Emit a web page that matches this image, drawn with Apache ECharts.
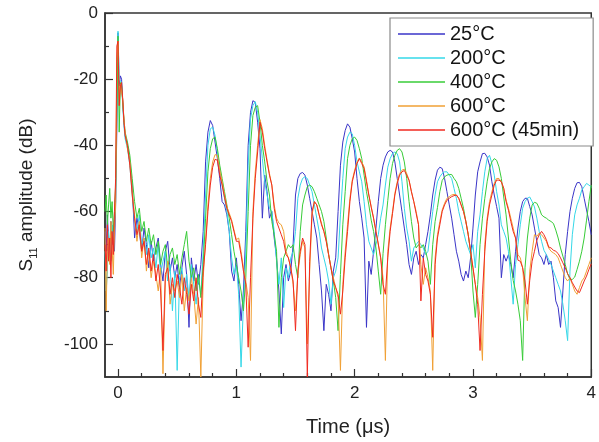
<!DOCTYPE html>
<html>
<head>
<meta charset="utf-8">
<script src="https://cdn.jsdelivr.net/npm/echarts@6/dist/echarts.min.js"></script>
<style>
html,body{margin:0;padding:0;background:#fff;}
#chart{width:599px;height:442px;}
</style>
</head>
<body>
<div id="chart"></div>
<script>
// Time axis (µs)
const times = [-0.11,-0.10,-0.09,-0.08,-0.07,-0.06,-0.05,-0.04,-0.03,-0.02,
-0.01,0,0.01,0.02,0.03,0.04,0.05,0.06,
0.08,0.10,0.12,0.14,0.16,0.18,0.20,0.22,0.24,0.26,
0.28,0.30,0.32,0.34,0.36,0.38,0.40,0.42,0.44,0.46,
0.48,0.50,0.52,0.54,0.56,0.58,0.60,0.62,0.64,0.66,
0.68,0.70,0.72,0.74,0.76,0.78,0.80,0.82,0.84,0.86,
0.88,0.90,0.92,0.94,0.96,0.98,1.00,1.02,1.04,1.06,
1.08,1.10,1.12,1.14,1.16,1.18,1.20,1.22,1.24,1.26,
1.28,1.30,1.32,1.34,1.36,1.38,1.40,1.42,1.44,1.46,
1.48,1.50,1.52,1.54,1.56,1.58,1.60,1.62,1.64,1.66,
1.68,1.70,1.72,1.74,1.76,1.78,1.80,1.82,1.84,1.86,
1.88,1.90,1.92,1.94,1.96,1.98,2.00,2.02,2.04,2.06,
2.08,2.10,2.12,2.14,2.16,2.18,2.20,2.22,2.24,2.26,
2.28,2.30,2.32,2.34,2.36,2.38,2.40,2.42,2.44,2.46,
2.48,2.50,2.52,2.54,2.56,2.58,2.60,2.62,2.64,2.66,
2.68,2.70,2.72,2.74,2.76,2.78,2.80,2.82,2.84,2.86,
2.88,2.90,2.92,2.94,2.96,2.98,3.00,3.02,3.04,3.06,
3.08,3.10,3.12,3.14,3.16,3.18,3.20,3.22,3.24,3.26,
3.28,3.30,3.32,3.34,3.36,3.38,3.40,3.42,3.44,3.46,
3.48,3.50,3.52,3.54,3.56,3.58,3.60,3.62,3.64,3.66,
3.68,3.70,3.72,3.74,3.76,3.78,3.80,3.82,3.84,3.86,
3.88,3.90,3.92,3.94,3.96,3.98,4.00];

const seriesNames = ['25°C','200°C','400°C','600°C','600°C (45min)'];

const s25 = [-66,-72,-61,-68,-74,-63,-70,-65,-72,-58,
-35,-6,-22,-19,-20,-27,-33,-37,
-40,-45,-52,-68,-62,-66,-72,-65,-70,-77,
-69,-75,-71,-68,-76,-81,-72,-69,-78,-74,
-80,-76,-83,-77,-72,-79,-95,-74,-81,-76,
-82,-76,-66,-45,-36,-32.5,-34,-39,-44,-50,
-57,-58,-61,-66,-78,-81,-74,-82,-93,-84,
-66,-40,-30,-26.5,-27,-33,-41,-62,-49,-54,
-62,-60,-68,-74,-84,-97,-80,-76,-81,-78,
-70,-55,-50,-48.5,-48.2,-49,-52,-56,-60,-64,
-68,-76,-84,-96,-82,-85,-90,-78,-74,-60,
-46,-39,-35.5,-33.5,-34.5,-38,-42,-50,-57,-62,
-68,-95,-75,-79,-72,-65,-57,-50,-46,-43.5,
-42,-41.5,-42,-45,-50,-55,-60,-65,-70,-76,
-79,-74,-72,-76,-73,-74,-70,-66,-61,-55,
-50.5,-47.5,-46.6,-47,-50,-54,-58,-62,-67,-72,
-75,-79,-81,-78,-80,-74,-65,-55,-48,-45,
-42.5,-42.4,-43.5,-46,-51,-55,-58.5,-62,-80,-73,
-75,-73,-76,-80,-72,-65,-60,-57,-56,-56,
-58.5,-61,-65,-69,-73,-74,-76,-73,-76,-75,
-80,-87,-89,-95,-84,-73,-66,-60,-56,-53,
-51.3,-51.2,-52.5,-56,-59.5,-63,-67];

const s200 = [-72,-84,-78,-66,-70,-75,-64,-69,-62,-57,
-30,-5.5,-20,-20,-21,-28,-34,-38,
-41,-46,-55,-63,-66,-61,-70,-68,-73,-67,
-74,-71,-77,-70,-79,-75,-72,-81,-76,-90,
-78,-108,-80,-77,-84,-79,-86,-76,-82,-88,
-80,-85,-72,-55,-40,-35,-34.5,-37,-42,-47,
-52,-56,-60,-66,-74,-79,-76,-85,-107,-88,
-72,-46,-32,-28,-26.8,-30,-37,-44,-51,-55,
-59,-60,-66,-75,-82,-74,-89,-77,-80,-74,
-72,-66,-56,-52,-50,-49.5,-50,-52,-54,-58,
-62,-66,-71,-74,-77,-81,-88,-80,-78,-74,
-61,-50,-41,-37.5,-36,-36.5,-40,-45,-48,-51,
-57,-64,-69,-71,-73,-70,-67,-62,-58,-52,
-46.6,-44,-42.5,-42,-42.5,-45,-51,-59,-65,-69,
-75,-71,-70,-69,-70,-71,-73,-72,-66,-60,
-55,-51,-49.5,-48.5,-48,-48,-49,-50,-53,-56,
-60,-63,-66,-69,-71,-73,-70,-77,-66,-61,
-54,-48,-44,-43,-45.5,-49,-54,-58,-64,-66,
-68,-72,-80,-88,-76,-70,-64,-59,-57,-56,
-55.6,-57,-58.6,-62,-66,-69,-71.7,-73,-74.5,-76,
-78,-80,-82,-84,-88,-93,-99,-78,-67,-61,
-58,-56,-53.5,-52.5,-51.5,-52,-52.6];

const s400 = [-60,-55,-64,-58,-53,-62,-57,-66,-60,-52,
-30,-7,-36,-21,-22,-27,-32,-36,
-39,-43,-50,-57,-62,-59,-66,-63,-69,-65,
-70,-67,-73,-69,-76,-72,-70,-77,-73,-71,
-76,-73,-79,-74,-70,-66,-75,-80,-77,-84,
-79,-86,-76,-62,-48,-41,-38,-37.5,-41,-46,
-50,-54,-58,-62,-67,-72,-76,-80,-84,-90,
-80,-60,-40,-31,-28.5,-28,-33,-40,-45,-51,
-55,-63,-67,-72,-95,-80,-74,-72,-70,-71,
-70,-76,-80,-66,-58,-55,-52.5,-52,-52.5,-54,
-56,-58,-60,-63,-68,-73,-77,-81,-86,-96,
-79,-64,-54,-44,-40,-38,-37.5,-38.5,-41,-44,
-49,-54,-58,-62.6,-66,-71,-78,-85,-72.7,-64,
-56.7,-50,-45.5,-43,-41.5,-41,-42,-45,-50,-57,
-63,-68,-71,-70,-71,-70,-72,-75,-82,-70,
-63,-58.8,-54,-50.6,-49.5,-49,-48.8,-48.8,-50,-51,
-53,-56,-59,-63,-67,-72,-84,-92,-82,-70,
-62,-56,-51,-47,-45,-44,-44.5,-46.5,-50,-55.6,
-61,-68,-75,-80.8,-84,-88,-93,-105,-77,-68,
-62,-58,-57.2,-57.5,-59,-61,-61.6,-62,-62.6,-63,
-63.6,-65.6,-68,-71,-73.5,-76,-78.8,-80.5,-80.5,-79.8,
-77.5,-75,-72,-68,-62.6,-57,-52];

const s600 = [-65,-90,-72,-68,-76,-63,-71,-79,-66,-57,
-14,-8.5,-26,-21.5,-21,-26,-32,-36,
-41,-45,-54,-61,-69,-63,-74,-68,-78,-72,
-80,-75,-79,-84,-77,-109,-81,-75,-88,-82,
-84,-81,-86,-79,-90,-83,-87,-80,-85,-94,
-86,-110,-80,-69,-58,-50,-45,-42.8,-43,-47.5,
-51,-55,-58.5,-60.5,-62.5,-65.5,-68.5,-68,-72,-77,
-81,-86,-105,-60,-48,-40,-32.2,-35,-40,-44.5,
-48.5,-52,-58,-62,-63.5,-64,-66,-72,-74,-77,
-82,-90,-79,-73,-69,-71,-100,-78,-61,-57,
-58,-61,-63.5,-66,-69,-73,-77,-80,-83,-86,
-108,-82,-72,-64,-56,-50.5,-47.5,-45,-43.8,-45,
-46.5,-50.5,-55,-58.5,-62,-66,-70,-74,-80,-105,
-72,-65,-60,-54.5,-51,-48.5,-47.5,-47.2,-48.5,-50.5,
-54,-57,-60,-64,-76,-82,-77,-80,-84,-108,
-74,-67,-63,-59.5,-57.5,-56,-55.5,-55,-54.8,-55,
-56,-58,-60,-63,-67,-72,-77,-82,-86,-92,
-105,-70,-62,-57,-54,-51.5,-50,-50,-51,-53,
-56.5,-59,-62,-65,-68,-73,-74,-77,-86,-93,
-78,-72,-67,-67.5,-66.5,-67,-68,-69,-71,-72,
-72.5,-73,-74,-76,-78,-80,-81,-80,-82,-84,
-85,-83,-81,-80,-78,-76,-74];

const s600h = [-70,-78,-64,-75,-68,-80,-66,-73,-60,-50,
-10,-8.5,-28,-22,-21,-26,-33,-37,
-40,-46,-55,-62,-67,-64,-72,-69,-76,-71,
-78,-73,-81,-76,-84,-102,-79,-77,-85,-80,
-86,-79,-83,-88,-80,-85,-91,-82,-87,-80,
-88,-92,-78,-70,-60,-52,-46.6,-44.2,-44.5,-49,
-52,-55.7,-59,-61,-63,-66,-69,-69,-73,-78,
-82,-101,-80,-62,-50,-42,-33,-36,-41,-45,
-49,-52,-59,-63,-65,-67,-69,-73,-74,-77,
-81,-96,-78,-72,-68,-70,-110,-75,-60,-57,
-58,-61,-64,-66,-69,-73,-77,-81,-83,-85,
-91,-84,-74,-66,-57,-51,-48,-45.5,-44,-45.5,
-47,-51,-55,-58.7,-62,-66,-69.8,-74,-82,-85,
-74,-66,-60.6,-55,-51.5,-49,-48,-47.6,-49,-50.6,
-54,-57,-60.6,-64,-87,-74,-79,-81,-85,-98,
-76,-68,-64,-60,-58,-56.6,-56,-55.5,-55.2,-55,
-56,-58,-60,-63,-67,-72,-77,-82,-88,-102,
-85,-72,-63,-58,-55,-52,-50.5,-50.5,-51,-53,
-57,-59.6,-63,-66,-68,-74.7,-75,-77,-81,-88,
-80.8,-75,-72,-68.7,-67,-66,-67,-68.5,-70.7,-71,
-71.7,-72,-72.7,-74,-75.5,-77,-78.8,-80,-81.5,-82.8,
-84,-84.5,-82.8,-81,-79.5,-77.5,-75.8];

const xTickValues = [0, 1, 2, 3, 4];
const xMinorTickValues = [0.2,0.4,0.6,0.8,1.2,1.4,1.6,1.8,2.2,2.4,2.6,2.8,3.2,3.4,3.6,3.8];
const yTickValues = [-100, -80, -60, -40, -20, 0];
const yMinorTickValues = [-90, -70, -50, -30, -10];

const seriesValues = [s25, s200, s400, s600, s600h];
const colors = ['#3a35c8', '#35d8e8', '#38cc38', '#f0a035', '#f02a20'];

const FONT = 'Liberation Sans, Arial, Helvetica, sans-serif';
const chart = echarts.init(document.getElementById('chart'), null, {renderer: 'canvas'});

const series = seriesNames.map((name, k) => ({
  name: name,
  type: 'line',
  xAxisIndex: 0,
  yAxisIndex: 0,
  data: times.map((t, i) => [t, seriesValues[k][i]]),
  showSymbol: false,
  symbol: 'none',
  clip: true,
  lineStyle: {width: 1, color: colors[k]},
  itemStyle: {color: colors[k]},
  emphasis: {disabled: true}
}));

chart.setOption({
  animation: false,
  backgroundColor: '#fff',
  color: colors,
  grid: {left: 105, right: 4, top: 13, bottom: 65, show: true, borderColor: '#333', borderWidth: 1.5, backgroundColor: 'transparent'},
  legend: {
    show: true,
    orient: 'vertical',
    left: 390, top: 18,
    padding: [6, 14, 6, 8],
    itemGap: 4,
    itemWidth: 47, itemHeight: 1.3,
    icon: 'rect',
    backgroundColor: '#fff',
    borderColor: '#8a8a8a', borderWidth: 1.2, borderRadius: 0,
    textStyle: {fontFamily: FONT, fontSize: 20, color: '#151515', lineHeight: 20},
    data: seriesNames.slice(),
    selectedMode: false
  },
  xAxis: [{
    type: 'value', min: -0.11, max: 4,
    axisLine: {show: true, onZero: false, lineStyle: {color: '#333', width: 1.5}},
    axisTick: {show: true, inside: true, length: 8, customValues: xTickValues, lineStyle: {color: '#333', width: 1.2}},
    axisLabel: {show: true, customValues: xTickValues, margin: 8, fontFamily: FONT, fontSize: 17, color: '#222'},
    splitLine: {show: false},
    name: 'Time (μs)', nameLocation: 'middle', nameGap: 40,
    nameTextStyle: {fontFamily: FONT, fontSize: 20, color: '#222'}
  }, {
    type: 'value', min: -0.11, max: 4, position: 'bottom', gridIndex: 0,
    axisLine: {show: false, onZero: false},
    axisTick: {show: true, inside: true, length: 4, customValues: xMinorTickValues, lineStyle: {color: '#333', width: 1.2}},
    axisLabel: {show: false},
    splitLine: {show: false}
  }],
  yAxis: [{
    type: 'value', min: -110, max: 0,
    axisLine: {show: true, onZero: false, lineStyle: {color: '#333', width: 1.5}},
    axisTick: {show: true, inside: true, length: 8, customValues: yTickValues, lineStyle: {color: '#333', width: 1.2}},
    axisLabel: {show: true, customValues: yTickValues, margin: 7, fontFamily: FONT, fontSize: 17, color: '#222'},
    splitLine: {show: false},
    name: '{m|S}{s|11}{m| amplitude (dB)}', nameLocation: 'middle', nameGap: 66, nameRotate: 90,
    nameTextStyle: {
      fontFamily: FONT, color: '#222',
      rich: {
        m: {fontFamily: FONT, fontSize: 19, lineHeight: 24, color: '#222'},
        s: {fontFamily: FONT, fontSize: 11, lineHeight: 11, verticalAlign: 'bottom', color: '#222'}
      }
    }
  }, {
    type: 'value', min: -110, max: 0, position: 'left', gridIndex: 0,
    axisLine: {show: false, onZero: false},
    axisTick: {show: true, inside: true, length: 4, customValues: yMinorTickValues, lineStyle: {color: '#333', width: 1.2}},
    axisLabel: {show: false},
    splitLine: {show: false}
  }],
  series: series
});
</script>
</body>
</html>
